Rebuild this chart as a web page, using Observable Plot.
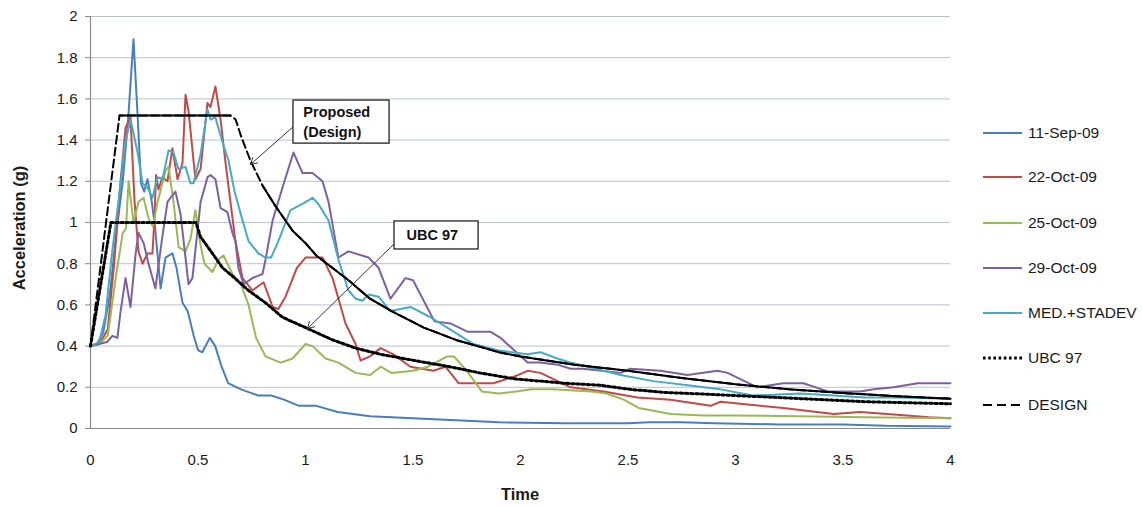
<!DOCTYPE html>
<html><head><meta charset="utf-8">
<script src="https://cdn.jsdelivr.net/npm/d3@7"></script>
<script src="https://cdn.jsdelivr.net/npm/@observablehq/plot@0.6"></script>
<style>
body{margin:0;background:#fff;}
#wrap{position:relative;width:1142px;height:506px;font-family:"Liberation Sans",Arial,sans-serif;color:#1a1a1a;overflow:hidden;}
#wrap svg{position:absolute;left:0;top:0;}
.lg{position:absolute;left:983px;height:20px;display:flex;align-items:center;font-size:15.5px;white-space:nowrap;}
.lg svg{position:static !important;margin-right:5px;}
.ttl{position:absolute;font-weight:bold;font-size:16.5px;}
</style></head><body><div id="wrap"></div>
<script>
// ---- data (time in s, acceleration in g) ----
const xTicks = [0, 0.5, 1, 1.5, 2, 2.5, 3, 3.5, 4];
const yTicks = [0, 0.2, 0.4, 0.6, 0.8, 1, 1.2, 1.4, 1.6, 1.8, 2];

const sep11T = [0,0.03,0.06,0.09,0.12,0.15,0.175,0.2,0.22,0.235,0.25,0.265,0.285,0.30,0.326,0.349,0.381,0.40,0.428,0.452,0.48,0.50,0.52,0.555,0.58,0.61,0.64,0.70,0.78,0.84,0.90,0.97,1.05,1.15,1.3,1.5,1.7,1.9,2.2,2.5,2.6,2.75,2.9,3.2,3.5,3.7,4.0];
const sep11A = [0.40,0.41,0.47,0.65,0.95,1.2,1.5,1.89,1.5,1.19,1.15,1.21,1.10,0.98,0.68,0.83,0.85,0.78,0.61,0.57,0.45,0.38,0.37,0.44,0.40,0.30,0.22,0.19,0.16,0.16,0.14,0.11,0.11,0.08,0.06,0.05,0.04,0.03,0.025,0.025,0.03,0.03,0.025,0.02,0.02,0.013,0.01];

const oct22T = [0,0.04,0.08,0.11,0.14,0.163,0.186,0.205,0.223,0.242,0.265,0.288,0.296,0.305,0.316,0.335,0.358,0.381,0.405,0.428,0.442,0.456,0.488,0.512,0.544,0.558,0.581,0.605,0.628,0.674,0.707,0.753,0.805,0.847,0.874,0.907,0.96,1.0,1.079,1.126,1.186,1.233,1.256,1.3,1.349,1.409,1.488,1.595,1.651,1.712,1.781,1.874,1.967,2.033,2.093,2.233,2.386,2.544,2.698,2.884,2.93,3.116,3.223,3.456,3.581,3.767,3.9,4.0];
const oct22A = [0.40,0.41,0.48,0.8,1.2,1.46,1.51,1.1,0.86,0.80,0.85,0.85,0.99,1.23,1.16,1.22,1.2,1.36,1.21,1.29,1.62,1.54,1.21,1.26,1.58,1.56,1.66,1.5,1.29,0.91,0.73,0.67,0.71,0.59,0.58,0.64,0.78,0.83,0.83,0.73,0.51,0.41,0.33,0.35,0.39,0.36,0.30,0.28,0.30,0.22,0.22,0.22,0.25,0.28,0.27,0.20,0.18,0.15,0.14,0.11,0.13,0.11,0.10,0.07,0.08,0.065,0.055,0.05];

const oct25T = [0,0.04,0.08,0.12,0.15,0.165,0.177,0.2,0.223,0.247,0.27,0.29,0.312,0.349,0.363,0.386,0.41,0.442,0.465,0.488,0.51,0.53,0.567,0.595,0.619,0.66,0.70,0.735,0.77,0.814,0.884,0.94,1.0,1.033,1.093,1.153,1.233,1.3,1.35,1.4,1.5,1.57,1.66,1.69,1.75,1.82,1.9,1.98,2.05,2.15,2.33,2.4,2.48,2.55,2.7,2.85,3.0,3.3,3.6,4.0];
const oct25A = [0.40,0.41,0.45,0.75,0.95,0.97,1.2,1.0,1.1,1.12,1.02,0.98,1.1,1.25,1.27,1.1,0.88,0.86,0.92,1.06,0.9,0.8,0.76,0.82,0.84,0.75,0.70,0.6,0.44,0.35,0.32,0.34,0.41,0.40,0.34,0.32,0.27,0.26,0.30,0.27,0.28,0.30,0.35,0.35,0.28,0.18,0.17,0.18,0.19,0.19,0.18,0.17,0.14,0.1,0.07,0.063,0.063,0.06,0.055,0.05];

const oct29T = [0,0.04,0.077,0.102,0.125,0.14,0.163,0.186,0.21,0.223,0.247,0.27,0.302,0.33,0.358,0.395,0.419,0.456,0.474,0.512,0.544,0.558,0.581,0.605,0.637,0.66,0.674,0.688,0.712,0.753,0.8,0.814,0.847,0.893,0.944,0.986,1.033,1.079,1.107,1.153,1.2,1.293,1.34,1.395,1.465,1.5,1.6,1.674,1.753,1.86,1.907,2.033,2.093,2.172,2.233,2.29,2.465,2.51,2.65,2.777,2.916,2.963,3.102,3.223,3.316,3.428,3.581,3.642,3.735,3.847,4.0];
const oct29A = [0.40,0.41,0.42,0.45,0.44,0.57,0.73,0.59,0.85,0.95,0.90,0.80,0.68,0.9,1.1,1.15,1.04,0.70,0.73,1.1,1.22,1.23,1.21,1.07,1.05,0.95,0.91,0.78,0.70,0.73,0.75,0.82,1.01,1.17,1.34,1.24,1.24,1.2,1.1,0.83,0.86,0.83,0.78,0.63,0.73,0.72,0.52,0.51,0.47,0.47,0.44,0.32,0.32,0.31,0.29,0.29,0.27,0.29,0.28,0.26,0.28,0.27,0.20,0.22,0.22,0.18,0.18,0.19,0.20,0.22,0.22];

const medT = [0,0.04,0.07,0.1,0.13,0.16,0.186,0.219,0.242,0.265,0.288,0.312,0.335,0.363,0.386,0.409,0.442,0.465,0.479,0.512,0.544,0.558,0.581,0.614,0.642,0.67,0.707,0.735,0.781,0.814,0.84,0.87,0.93,0.986,1.033,1.06,1.107,1.153,1.2,1.233,1.265,1.293,1.34,1.395,1.488,1.581,1.674,1.781,1.893,2.033,2.093,2.172,2.233,2.386,2.465,2.618,2.777,2.93,3.08,3.3,3.456,3.6,3.767,4.0];
const medA = [0.40,0.42,0.55,0.85,1.1,1.38,1.50,1.34,1.19,1.17,1.12,1.22,1.21,1.35,1.34,1.26,1.27,1.19,1.19,1.33,1.55,1.50,1.51,1.39,1.30,1.15,1.01,0.91,0.85,0.83,0.83,0.9,1.06,1.09,1.12,1.09,1.01,0.82,0.67,0.63,0.62,0.65,0.64,0.57,0.59,0.54,0.48,0.41,0.38,0.36,0.37,0.34,0.32,0.28,0.26,0.23,0.21,0.19,0.16,0.17,0.16,0.15,0.15,0.145];

const ubcT = [0,0.095,0.49,0.512,0.567,0.614,0.66,0.735,0.814,0.893,1.0,1.126,1.233,1.35,1.507,1.67,1.81,1.98,2.093,2.2,2.37,2.51,2.67,2.83,3.0,3.3,3.6,4.0];
const ubcA = [0.40,1.0,1.0,0.93,0.85,0.78,0.74,0.67,0.61,0.54,0.49,0.43,0.39,0.36,0.33,0.30,0.27,0.24,0.23,0.22,0.21,0.19,0.175,0.168,0.16,0.145,0.13,0.12];

const designT = [0,0.135,0.65,0.675,0.70,0.744,0.80,0.86,0.94,1.0,1.05,1.1,1.2,1.3,1.4,1.55,1.7,1.8,1.9,2.0,2.25,2.5,2.75,3.0,3.25,3.5,3.75,4.0];
const designA = [0.40,1.52,1.52,1.50,1.42,1.30,1.18,1.08,0.96,0.90,0.84,0.80,0.72,0.63,0.57,0.49,0.43,0.40,0.37,0.35,0.31,0.28,0.245,0.215,0.19,0.172,0.157,0.145];

// annotation boxes & arrows (data units)
const notes = [
  {label: ["Proposed", "(Design)"], x1: 0.944, x2: 1.391, y1: 1.383, y2: 1.592, tx: 0.99, ty: [1.535, 1.44], ax: 0.944, ay: 1.466, hx: 0.744, hy: 1.282},
  {label: ["UBC 97"], x1: 1.414, x2: 1.805, y1: 0.869, y2: 1.005, tx: 1.47, ty: [0.937], ax: 1.414, ay: 0.898, hx: 1.009, hy: 0.485}
];

const names = ["11-Sep-09","22-Oct-09","25-Oct-09","29-Oct-09","MED.+STADEV","UBC 97","DESIGN"];
const colors = ["#4A7EBB","#BE4B48","#98B954","#7D60A0","#46AAC5","#000000","#000000"];

const rows = (T, A) => T.map((t, i) => ({t, a: A[i]}));
const series = [[sep11T,sep11A],[oct22T,oct22A],[oct25T,oct25A],[oct29T,oct29A],[medT,medA]];

const designRows = rows(designT, designA);
const solidRows = designRows.map(d => ({...d, seg: d.t <= 0.66 ? (d.t >= 0.135 ? 1 : 0) : (d.t >= 0.8 ? 2 : 0)})).filter(d => d.seg > 0);

const marks = [
  Plot.gridY(yTicks, {stroke: "#b9c3cf", strokeOpacity: 1, strokeWidth: 1}),
  Plot.ruleX([0], {stroke: "#8a8a8a", strokeWidth: 1.2}),
  Plot.ruleY([0], {stroke: "#8a8a8a", strokeWidth: 1.2}),
  ...series.map(([T, A], i) => Plot.line(rows(T, A), {x: "t", y: "a", stroke: colors[i], strokeWidth: 2})),
  Plot.line(rows(ubcT, ubcA), {x: "t", y: "a", stroke: "#000", strokeWidth: 3, strokeDasharray: "2.6,2.6"}),
  Plot.line(designRows, {x: "t", y: "a", stroke: "#000", strokeWidth: 2, strokeDasharray: "8,4"}),
  Plot.line(solidRows, {x: "t", y: "a", z: "seg", stroke: "#000", strokeWidth: 2}),
  Plot.arrow(notes, {x1: "ax", y1: "ay", x2: "hx", y2: "hy", stroke: "#333", strokeWidth: 1, headLength: 11, bend: 0}),
  Plot.rect(notes, {x1: "x1", x2: "x2", y1: "y1", y2: "y2", fill: "#fff", stroke: "#222", strokeWidth: 1.3}),
  Plot.text(notes.flatMap(n => n.label.map((s, k) => ({s, x: n.tx, y: n.ty[k]}))), {x: "x", y: "y", text: "s", textAnchor: "start", fontWeight: "bold", fontSize: 14.5, fill: "#111"})
];

const chart = Plot.plot({
  width: 1142, height: 506,
  marginLeft: 90, marginRight: 192, marginTop: 16, marginBottom: 78,
  style: {fontFamily: "'Liberation Sans', Arial, sans-serif", fontSize: "15px", color: "#1a1a1a", background: "transparent"},
  x: {domain: [0, 4], ticks: xTicks, tickFormat: d => String(d), tickSize: 0, tickPadding: 26, label: null},
  y: {domain: [0, 2], ticks: yTicks, tickFormat: d => String(+d.toFixed(1)), tickSize: 5, tickPadding: 8, label: null},
  marks
});
chart.querySelectorAll('[aria-label="y-axis tick"] path, [aria-label="y-axis tick"]').forEach(e => e.setAttribute("stroke", "#8a8a8a"));
const wrap = document.getElementById("wrap");
wrap.appendChild(chart);

// axis titles
const tx = document.createElement("div");
tx.className = "ttl"; tx.textContent = "Time";
tx.style.left = "520px"; tx.style.top = "494px"; tx.style.transform = "translate(-50%,-50%)";
wrap.appendChild(tx);
const ty = document.createElement("div");
ty.className = "ttl"; ty.textContent = "Acceleration (g)";
ty.style.left = "19px"; ty.style.top = "228px"; ty.style.transform = "translate(-50%,-50%) rotate(-90deg)";
wrap.appendChild(ty);

// legend
const legendY = [133, 177, 223, 268, 313, 358, 405];
names.forEach((n, i) => {
  const d = document.createElement("div");
  d.className = "lg";
  d.style.top = (legendY[i] - 10) + "px";
  const dash = i === 5 ? "2.6,2.6" : i === 6 ? "9,5" : null;
  const sw = i === 5 ? 3 : 2;
  d.innerHTML = `<svg width="40" height="20"><line x1="0" x2="39" y1="10" y2="10" stroke="${colors[i]}" stroke-width="${sw}" ${dash ? `stroke-dasharray="${dash}"` : ""}/></svg><span>${n}</span>`;
  wrap.appendChild(d);
});
</script>
</body></html>
